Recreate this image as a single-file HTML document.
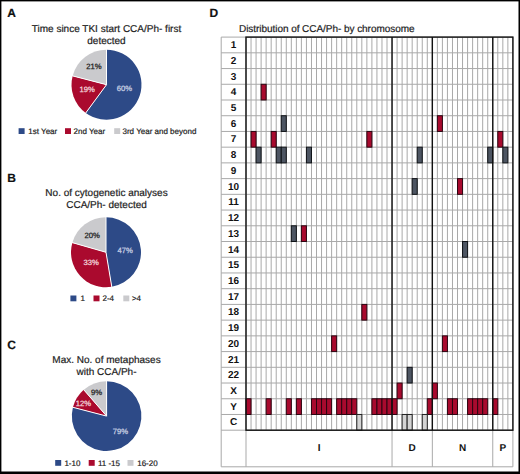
<!DOCTYPE html>
<html><head><meta charset="utf-8">
<style>
html,body{margin:0;padding:0;}
body{width:520px;height:474px;position:relative;overflow:hidden;background:#fff;font-family:"Liberation Sans",sans-serif;color:#222;text-rendering:geometricPrecision;}
.pl{position:absolute;font-weight:bold;font-size:12px;line-height:12px;color:#111;-webkit-text-stroke:0.2px #111;}
.tt{position:absolute;left:0;width:213px;text-align:center;font-size:10px;line-height:12.4px;color:#222;white-space:nowrap;-webkit-text-stroke:0.2px #222;}
.pct{position:absolute;font-size:7.7px;line-height:8px;white-space:nowrap;-webkit-text-stroke:0.25px currentColor;}
.lg{position:absolute;font-size:8px;line-height:9px;white-space:nowrap;color:#222;-webkit-text-stroke:0.2px #222;}
.rl{position:absolute;left:221.2px;width:24.80px;text-align:center;font-weight:bold;font-size:10px;color:#111;}
.sl{position:absolute;top:431.2px;height:36.8px;line-height:36.8px;text-align:center;font-weight:bold;font-size:10px;color:#111;}
svg{position:absolute;left:0;top:0;}
</style></head><body>
<svg width="520" height="474" viewBox="0 0 520 474">
<path d="M106.50,84.70 L106.50,49.70 A35,35 0 1 1 85.78,112.91 Z" fill="#2d4a87"/>
<path d="M106.50,84.70 L85.78,112.91 A35,35 0 0 1 72.63,75.88 Z" fill="#aa0a2e"/>
<path d="M106.50,84.70 L72.63,75.88 A35,35 0 0 1 106.50,49.70 Z" fill="#cacacd"/>
<line x1="106.50" y1="84.70" x2="106.50" y2="49.20" stroke="#fff" stroke-width="1"/>
<line x1="106.50" y1="84.70" x2="85.48" y2="113.31" stroke="#fff" stroke-width="1"/>
<line x1="106.50" y1="84.70" x2="72.15" y2="75.75" stroke="#fff" stroke-width="1"/>
<path d="M106.00,252.30 L106.00,217.30 A35,35 0 0 1 111.78,286.82 Z" fill="#2d4a87"/>
<path d="M106.00,252.30 L111.78,286.82 A35,35 0 0 1 72.36,242.65 Z" fill="#aa0a2e"/>
<path d="M106.00,252.30 L72.36,242.65 A35,35 0 0 1 106.00,217.30 Z" fill="#cacacd"/>
<line x1="106.00" y1="252.30" x2="106.00" y2="216.80" stroke="#fff" stroke-width="1"/>
<line x1="106.00" y1="252.30" x2="111.86" y2="287.31" stroke="#fff" stroke-width="1"/>
<line x1="106.00" y1="252.30" x2="71.88" y2="242.51" stroke="#fff" stroke-width="1"/>
<path d="M106.60,416.10 L106.60,381.30 A34.8,34.8 0 1 1 72.92,407.33 Z" fill="#2d4a87"/>
<path d="M106.60,416.10 L72.92,407.33 A34.8,34.8 0 0 1 83.77,389.84 Z" fill="#aa0a2e"/>
<path d="M106.60,416.10 L83.77,389.84 A34.8,34.8 0 0 1 106.60,381.30 Z" fill="#cacacd"/>
<line x1="106.60" y1="416.10" x2="106.60" y2="380.80" stroke="#fff" stroke-width="1"/>
<line x1="106.60" y1="416.10" x2="72.44" y2="407.20" stroke="#fff" stroke-width="1"/>
<line x1="106.60" y1="416.10" x2="83.44" y2="389.46" stroke="#fff" stroke-width="1"/>
<line x1="221.2" y1="37.10" x2="512.9" y2="37.10" stroke="#a9a9a9" stroke-width="1"/>
<line x1="221.2" y1="52.82" x2="512.9" y2="52.82" stroke="#a9a9a9" stroke-width="1"/>
<line x1="221.2" y1="68.55" x2="512.9" y2="68.55" stroke="#a9a9a9" stroke-width="1"/>
<line x1="221.2" y1="84.27" x2="512.9" y2="84.27" stroke="#a9a9a9" stroke-width="1"/>
<line x1="221.2" y1="100.00" x2="512.9" y2="100.00" stroke="#a9a9a9" stroke-width="1"/>
<line x1="221.2" y1="115.72" x2="512.9" y2="115.72" stroke="#a9a9a9" stroke-width="1"/>
<line x1="221.2" y1="131.44" x2="512.9" y2="131.44" stroke="#a9a9a9" stroke-width="1"/>
<line x1="221.2" y1="147.17" x2="512.9" y2="147.17" stroke="#a9a9a9" stroke-width="1"/>
<line x1="221.2" y1="162.89" x2="512.9" y2="162.89" stroke="#a9a9a9" stroke-width="1"/>
<line x1="221.2" y1="178.62" x2="512.9" y2="178.62" stroke="#a9a9a9" stroke-width="1"/>
<line x1="221.2" y1="194.34" x2="512.9" y2="194.34" stroke="#a9a9a9" stroke-width="1"/>
<line x1="221.2" y1="210.06" x2="512.9" y2="210.06" stroke="#a9a9a9" stroke-width="1"/>
<line x1="221.2" y1="225.79" x2="512.9" y2="225.79" stroke="#a9a9a9" stroke-width="1"/>
<line x1="221.2" y1="241.51" x2="512.9" y2="241.51" stroke="#a9a9a9" stroke-width="1"/>
<line x1="221.2" y1="257.24" x2="512.9" y2="257.24" stroke="#a9a9a9" stroke-width="1"/>
<line x1="221.2" y1="272.96" x2="512.9" y2="272.96" stroke="#a9a9a9" stroke-width="1"/>
<line x1="221.2" y1="288.68" x2="512.9" y2="288.68" stroke="#a9a9a9" stroke-width="1"/>
<line x1="221.2" y1="304.41" x2="512.9" y2="304.41" stroke="#a9a9a9" stroke-width="1"/>
<line x1="221.2" y1="320.13" x2="512.9" y2="320.13" stroke="#a9a9a9" stroke-width="1"/>
<line x1="221.2" y1="335.86" x2="512.9" y2="335.86" stroke="#a9a9a9" stroke-width="1"/>
<line x1="221.2" y1="351.58" x2="512.9" y2="351.58" stroke="#a9a9a9" stroke-width="1"/>
<line x1="221.2" y1="367.30" x2="512.9" y2="367.30" stroke="#a9a9a9" stroke-width="1"/>
<line x1="221.2" y1="383.03" x2="512.9" y2="383.03" stroke="#a9a9a9" stroke-width="1"/>
<line x1="221.2" y1="398.75" x2="512.9" y2="398.75" stroke="#a9a9a9" stroke-width="1"/>
<line x1="221.2" y1="414.48" x2="512.9" y2="414.48" stroke="#a9a9a9" stroke-width="1"/>
<line x1="221.2" y1="430.20" x2="512.9" y2="430.20" stroke="#a9a9a9" stroke-width="1"/>
<line x1="246.00" y1="37.1" x2="246.00" y2="430.2" stroke="#a9a9a9" stroke-width="1"/>
<line x1="251.04" y1="37.1" x2="251.04" y2="430.2" stroke="#a9a9a9" stroke-width="1"/>
<line x1="256.07" y1="37.1" x2="256.07" y2="430.2" stroke="#a9a9a9" stroke-width="1"/>
<line x1="261.11" y1="37.1" x2="261.11" y2="430.2" stroke="#a9a9a9" stroke-width="1"/>
<line x1="266.14" y1="37.1" x2="266.14" y2="430.2" stroke="#a9a9a9" stroke-width="1"/>
<line x1="271.18" y1="37.1" x2="271.18" y2="430.2" stroke="#a9a9a9" stroke-width="1"/>
<line x1="276.22" y1="37.1" x2="276.22" y2="430.2" stroke="#a9a9a9" stroke-width="1"/>
<line x1="281.25" y1="37.1" x2="281.25" y2="430.2" stroke="#a9a9a9" stroke-width="1"/>
<line x1="286.29" y1="37.1" x2="286.29" y2="430.2" stroke="#a9a9a9" stroke-width="1"/>
<line x1="291.32" y1="37.1" x2="291.32" y2="430.2" stroke="#a9a9a9" stroke-width="1"/>
<line x1="296.36" y1="37.1" x2="296.36" y2="430.2" stroke="#a9a9a9" stroke-width="1"/>
<line x1="301.39" y1="37.1" x2="301.39" y2="430.2" stroke="#a9a9a9" stroke-width="1"/>
<line x1="306.43" y1="37.1" x2="306.43" y2="430.2" stroke="#a9a9a9" stroke-width="1"/>
<line x1="311.47" y1="37.1" x2="311.47" y2="430.2" stroke="#a9a9a9" stroke-width="1"/>
<line x1="316.50" y1="37.1" x2="316.50" y2="430.2" stroke="#a9a9a9" stroke-width="1"/>
<line x1="321.54" y1="37.1" x2="321.54" y2="430.2" stroke="#a9a9a9" stroke-width="1"/>
<line x1="326.57" y1="37.1" x2="326.57" y2="430.2" stroke="#a9a9a9" stroke-width="1"/>
<line x1="331.61" y1="37.1" x2="331.61" y2="430.2" stroke="#a9a9a9" stroke-width="1"/>
<line x1="336.65" y1="37.1" x2="336.65" y2="430.2" stroke="#a9a9a9" stroke-width="1"/>
<line x1="341.68" y1="37.1" x2="341.68" y2="430.2" stroke="#a9a9a9" stroke-width="1"/>
<line x1="346.72" y1="37.1" x2="346.72" y2="430.2" stroke="#a9a9a9" stroke-width="1"/>
<line x1="351.75" y1="37.1" x2="351.75" y2="430.2" stroke="#a9a9a9" stroke-width="1"/>
<line x1="356.79" y1="37.1" x2="356.79" y2="430.2" stroke="#a9a9a9" stroke-width="1"/>
<line x1="361.82" y1="37.1" x2="361.82" y2="430.2" stroke="#a9a9a9" stroke-width="1"/>
<line x1="366.86" y1="37.1" x2="366.86" y2="430.2" stroke="#a9a9a9" stroke-width="1"/>
<line x1="371.90" y1="37.1" x2="371.90" y2="430.2" stroke="#a9a9a9" stroke-width="1"/>
<line x1="376.93" y1="37.1" x2="376.93" y2="430.2" stroke="#a9a9a9" stroke-width="1"/>
<line x1="381.97" y1="37.1" x2="381.97" y2="430.2" stroke="#a9a9a9" stroke-width="1"/>
<line x1="387.00" y1="37.1" x2="387.00" y2="430.2" stroke="#a9a9a9" stroke-width="1"/>
<line x1="392.04" y1="37.1" x2="392.04" y2="430.2" stroke="#a9a9a9" stroke-width="1"/>
<line x1="397.08" y1="37.1" x2="397.08" y2="430.2" stroke="#a9a9a9" stroke-width="1"/>
<line x1="402.11" y1="37.1" x2="402.11" y2="430.2" stroke="#a9a9a9" stroke-width="1"/>
<line x1="407.15" y1="37.1" x2="407.15" y2="430.2" stroke="#a9a9a9" stroke-width="1"/>
<line x1="412.18" y1="37.1" x2="412.18" y2="430.2" stroke="#a9a9a9" stroke-width="1"/>
<line x1="417.22" y1="37.1" x2="417.22" y2="430.2" stroke="#a9a9a9" stroke-width="1"/>
<line x1="422.25" y1="37.1" x2="422.25" y2="430.2" stroke="#a9a9a9" stroke-width="1"/>
<line x1="427.29" y1="37.1" x2="427.29" y2="430.2" stroke="#a9a9a9" stroke-width="1"/>
<line x1="432.33" y1="37.1" x2="432.33" y2="430.2" stroke="#a9a9a9" stroke-width="1"/>
<line x1="437.36" y1="37.1" x2="437.36" y2="430.2" stroke="#a9a9a9" stroke-width="1"/>
<line x1="442.40" y1="37.1" x2="442.40" y2="430.2" stroke="#a9a9a9" stroke-width="1"/>
<line x1="447.43" y1="37.1" x2="447.43" y2="430.2" stroke="#a9a9a9" stroke-width="1"/>
<line x1="452.47" y1="37.1" x2="452.47" y2="430.2" stroke="#a9a9a9" stroke-width="1"/>
<line x1="457.51" y1="37.1" x2="457.51" y2="430.2" stroke="#a9a9a9" stroke-width="1"/>
<line x1="462.54" y1="37.1" x2="462.54" y2="430.2" stroke="#a9a9a9" stroke-width="1"/>
<line x1="467.58" y1="37.1" x2="467.58" y2="430.2" stroke="#a9a9a9" stroke-width="1"/>
<line x1="472.61" y1="37.1" x2="472.61" y2="430.2" stroke="#a9a9a9" stroke-width="1"/>
<line x1="477.65" y1="37.1" x2="477.65" y2="430.2" stroke="#a9a9a9" stroke-width="1"/>
<line x1="482.68" y1="37.1" x2="482.68" y2="430.2" stroke="#a9a9a9" stroke-width="1"/>
<line x1="487.72" y1="37.1" x2="487.72" y2="430.2" stroke="#a9a9a9" stroke-width="1"/>
<line x1="492.76" y1="37.1" x2="492.76" y2="430.2" stroke="#a9a9a9" stroke-width="1"/>
<line x1="497.79" y1="37.1" x2="497.79" y2="430.2" stroke="#a9a9a9" stroke-width="1"/>
<line x1="502.83" y1="37.1" x2="502.83" y2="430.2" stroke="#a9a9a9" stroke-width="1"/>
<line x1="507.86" y1="37.1" x2="507.86" y2="430.2" stroke="#a9a9a9" stroke-width="1"/>
<line x1="512.90" y1="37.1" x2="512.90" y2="430.2" stroke="#a9a9a9" stroke-width="1"/>
<line x1="221.2" y1="37.1" x2="221.2" y2="466.8" stroke="#a9a9a9" stroke-width="1"/>
<rect x="261.11" y="84.27" width="5.04" height="15.72" fill="#a80a2e" stroke="#2a0510" stroke-width="1"/>
<rect x="281.25" y="115.72" width="5.04" height="15.72" fill="#4d5562" stroke="#0f1216" stroke-width="1"/>
<rect x="437.36" y="115.72" width="5.04" height="15.72" fill="#a80a2e" stroke="#2a0510" stroke-width="1"/>
<rect x="251.04" y="131.44" width="5.04" height="15.72" fill="#a80a2e" stroke="#2a0510" stroke-width="1"/>
<rect x="271.18" y="131.44" width="5.04" height="15.72" fill="#a80a2e" stroke="#2a0510" stroke-width="1"/>
<rect x="366.86" y="131.44" width="5.04" height="15.72" fill="#a80a2e" stroke="#2a0510" stroke-width="1"/>
<rect x="497.79" y="131.44" width="5.04" height="15.72" fill="#a80a2e" stroke="#2a0510" stroke-width="1"/>
<rect x="256.07" y="147.17" width="5.04" height="15.72" fill="#4d5562" stroke="#0f1216" stroke-width="1"/>
<rect x="276.22" y="147.17" width="5.04" height="15.72" fill="#4d5562" stroke="#0f1216" stroke-width="1"/>
<rect x="281.25" y="147.17" width="5.04" height="15.72" fill="#4d5562" stroke="#0f1216" stroke-width="1"/>
<rect x="306.43" y="147.17" width="5.04" height="15.72" fill="#4d5562" stroke="#0f1216" stroke-width="1"/>
<rect x="417.22" y="147.17" width="5.04" height="15.72" fill="#4d5562" stroke="#0f1216" stroke-width="1"/>
<rect x="487.72" y="147.17" width="5.04" height="15.72" fill="#4d5562" stroke="#0f1216" stroke-width="1"/>
<rect x="502.83" y="147.17" width="5.04" height="15.72" fill="#4d5562" stroke="#0f1216" stroke-width="1"/>
<rect x="412.18" y="178.62" width="5.04" height="15.72" fill="#4d5562" stroke="#0f1216" stroke-width="1"/>
<rect x="457.51" y="178.62" width="5.04" height="15.72" fill="#a80a2e" stroke="#2a0510" stroke-width="1"/>
<rect x="291.32" y="225.79" width="5.04" height="15.72" fill="#4d5562" stroke="#0f1216" stroke-width="1"/>
<rect x="301.39" y="225.79" width="5.04" height="15.72" fill="#a80a2e" stroke="#2a0510" stroke-width="1"/>
<rect x="462.54" y="241.51" width="5.04" height="15.72" fill="#4d5562" stroke="#0f1216" stroke-width="1"/>
<rect x="361.82" y="304.41" width="5.04" height="15.72" fill="#a80a2e" stroke="#2a0510" stroke-width="1"/>
<rect x="331.61" y="335.86" width="5.04" height="15.72" fill="#a80a2e" stroke="#2a0510" stroke-width="1"/>
<rect x="442.40" y="335.86" width="5.04" height="15.72" fill="#a80a2e" stroke="#2a0510" stroke-width="1"/>
<rect x="407.15" y="367.30" width="5.04" height="15.72" fill="#4d5562" stroke="#0f1216" stroke-width="1"/>
<rect x="397.08" y="383.03" width="5.04" height="15.72" fill="#a80a2e" stroke="#2a0510" stroke-width="1"/>
<rect x="432.33" y="383.03" width="5.04" height="15.72" fill="#a80a2e" stroke="#2a0510" stroke-width="1"/>
<rect x="246.00" y="398.75" width="5.04" height="15.72" fill="#a80a2e" stroke="#2a0510" stroke-width="1"/>
<rect x="266.14" y="398.75" width="5.04" height="15.72" fill="#a80a2e" stroke="#2a0510" stroke-width="1"/>
<rect x="286.29" y="398.75" width="5.04" height="15.72" fill="#a80a2e" stroke="#2a0510" stroke-width="1"/>
<rect x="296.36" y="398.75" width="5.04" height="15.72" fill="#a80a2e" stroke="#2a0510" stroke-width="1"/>
<rect x="311.47" y="398.75" width="5.04" height="15.72" fill="#a80a2e" stroke="#2a0510" stroke-width="1"/>
<rect x="316.50" y="398.75" width="5.04" height="15.72" fill="#a80a2e" stroke="#2a0510" stroke-width="1"/>
<rect x="321.54" y="398.75" width="5.04" height="15.72" fill="#a80a2e" stroke="#2a0510" stroke-width="1"/>
<rect x="326.57" y="398.75" width="5.04" height="15.72" fill="#a80a2e" stroke="#2a0510" stroke-width="1"/>
<rect x="336.65" y="398.75" width="5.04" height="15.72" fill="#a80a2e" stroke="#2a0510" stroke-width="1"/>
<rect x="341.68" y="398.75" width="5.04" height="15.72" fill="#a80a2e" stroke="#2a0510" stroke-width="1"/>
<rect x="346.72" y="398.75" width="5.04" height="15.72" fill="#a80a2e" stroke="#2a0510" stroke-width="1"/>
<rect x="351.75" y="398.75" width="5.04" height="15.72" fill="#a80a2e" stroke="#2a0510" stroke-width="1"/>
<rect x="371.90" y="398.75" width="5.04" height="15.72" fill="#a80a2e" stroke="#2a0510" stroke-width="1"/>
<rect x="376.93" y="398.75" width="5.04" height="15.72" fill="#a80a2e" stroke="#2a0510" stroke-width="1"/>
<rect x="381.97" y="398.75" width="5.04" height="15.72" fill="#a80a2e" stroke="#2a0510" stroke-width="1"/>
<rect x="387.00" y="398.75" width="5.04" height="15.72" fill="#a80a2e" stroke="#2a0510" stroke-width="1"/>
<rect x="392.04" y="398.75" width="5.04" height="15.72" fill="#a80a2e" stroke="#2a0510" stroke-width="1"/>
<rect x="427.29" y="398.75" width="5.04" height="15.72" fill="#a80a2e" stroke="#2a0510" stroke-width="1"/>
<rect x="447.43" y="398.75" width="5.04" height="15.72" fill="#a80a2e" stroke="#2a0510" stroke-width="1"/>
<rect x="452.47" y="398.75" width="5.04" height="15.72" fill="#a80a2e" stroke="#2a0510" stroke-width="1"/>
<rect x="467.58" y="398.75" width="5.04" height="15.72" fill="#a80a2e" stroke="#2a0510" stroke-width="1"/>
<rect x="472.61" y="398.75" width="5.04" height="15.72" fill="#a80a2e" stroke="#2a0510" stroke-width="1"/>
<rect x="477.65" y="398.75" width="5.04" height="15.72" fill="#a80a2e" stroke="#2a0510" stroke-width="1"/>
<rect x="482.68" y="398.75" width="5.04" height="15.72" fill="#a80a2e" stroke="#2a0510" stroke-width="1"/>
<rect x="492.76" y="398.75" width="5.04" height="15.72" fill="#a80a2e" stroke="#2a0510" stroke-width="1"/>
<rect x="356.79" y="414.48" width="5.04" height="15.72" fill="#d4d4d4" stroke="#222" stroke-width="1"/>
<rect x="402.11" y="414.48" width="5.04" height="15.72" fill="#d4d4d4" stroke="#222" stroke-width="1"/>
<rect x="407.15" y="414.48" width="5.04" height="15.72" fill="#d4d4d4" stroke="#222" stroke-width="1"/>
<rect x="422.25" y="414.48" width="5.04" height="15.72" fill="#d4d4d4" stroke="#222" stroke-width="1"/>
<line x1="246.00" y1="430.2" x2="246.00" y2="466.8" stroke="#a9a9a9" stroke-width="1"/>
<line x1="392.04" y1="430.2" x2="392.04" y2="466.8" stroke="#a9a9a9" stroke-width="1"/>
<line x1="432.33" y1="430.2" x2="432.33" y2="466.8" stroke="#a9a9a9" stroke-width="1"/>
<line x1="492.76" y1="430.2" x2="492.76" y2="466.8" stroke="#a9a9a9" stroke-width="1"/>
<line x1="512.90" y1="430.2" x2="512.90" y2="466.8" stroke="#a9a9a9" stroke-width="1"/>
<line x1="221.2" y1="466.8" x2="512.9" y2="466.8" stroke="#a9a9a9" stroke-width="1"/>
<rect x="246.0" y="37.1" width="266.90" height="393.10" fill="none" stroke="#111" stroke-width="1.4"/>
<line x1="392.04" y1="37.1" x2="392.04" y2="430.2" stroke="#111" stroke-width="1.4"/>
<line x1="432.33" y1="37.1" x2="432.33" y2="430.2" stroke="#111" stroke-width="1.4"/>
<line x1="492.76" y1="37.1" x2="492.76" y2="430.2" stroke="#111" stroke-width="1.4"/>
<rect x="18.60" y="128.20" width="6" height="5.8" fill="#2d4a87"/>
<rect x="65.00" y="128.20" width="6" height="5.8" fill="#aa0a2e"/>
<rect x="114.20" y="128.20" width="6" height="5.8" fill="#cacacd"/>
<rect x="70.40" y="295.50" width="6" height="5.8" fill="#2d4a87"/>
<rect x="93.50" y="295.50" width="6" height="5.8" fill="#aa0a2e"/>
<rect x="123.30" y="295.50" width="6" height="5.8" fill="#cacacd"/>
<rect x="55.20" y="460.00" width="6" height="5.8" fill="#2d4a87"/>
<rect x="88.70" y="460.00" width="6" height="5.8" fill="#aa0a2e"/>
<rect x="127.50" y="460.00" width="6" height="5.8" fill="#cacacd"/>
</svg>
<div class="pl" style="left:7.3px;top:7px">A</div>
<div class="pl" style="left:7.3px;top:172px">B</div>
<div class="pl" style="left:7.3px;top:339px">C</div>
<div class="pl" style="left:209.5px;top:7px">D</div>
<div class="tt" style="top:24px">Time since TKI start CCA/Ph- first<br>detected</div>
<div class="tt" style="top:188px">No. of cytogenetic analyses<br>CCA/Ph- detected</div>
<div class="tt" style="top:355px">Max. No. of metaphases<br>with CCA/Ph-</div>
<div class="tt" style="top:24px;left:239px;width:auto;font-size:10px;letter-spacing:-0.05px;text-align:left">Distribution of CCA/Ph- by chromosome</div>
<div class="pct" style="left:86.3px;top:62.5px;color:#222">21%</div>
<div class="pct" style="left:79.5px;top:86.0px;color:#f2d6dc">19%</div>
<div class="pct" style="left:116.8px;top:84.5px;color:#c9d1e3">60%</div>
<div class="pct" style="left:84.5px;top:231.5px;color:#222">20%</div>
<div class="pct" style="left:83.5px;top:259.0px;color:#f2d6dc">33%</div>
<div class="pct" style="left:117.5px;top:246.5px;color:#c9d1e3">47%</div>
<div class="pct" style="left:91px;top:389.0px;color:#222">9%</div>
<div class="pct" style="left:75.8px;top:400.0px;color:#f2d6dc">12%</div>
<div class="pct" style="left:112.8px;top:427.5px;color:#c9d1e3">79%</div>
<div class="lg" style="left:28.3px;top:126.70px">1st Year</div>
<div class="lg" style="left:73.6px;top:126.70px">2nd Year</div>
<div class="lg" style="left:122.5px;top:126.70px">3rd Year and beyond</div>
<div class="lg" style="left:80.5px;top:294.40px">1</div>
<div class="lg" style="left:102.5px;top:294.40px">2-4</div>
<div class="lg" style="left:131.9px;top:294.40px">&gt;4</div>
<div class="lg" style="left:64.4px;top:458.70px">1-10</div>
<div class="lg" style="left:97.9px;top:458.70px">11 -15</div>
<div class="lg" style="left:137.2px;top:458.70px">16-20</div>
<div class="rl" style="top:38.10px;height:15.72px;line-height:15.72px">1</div>
<div class="rl" style="top:53.82px;height:15.72px;line-height:15.72px">2</div>
<div class="rl" style="top:69.55px;height:15.72px;line-height:15.72px">3</div>
<div class="rl" style="top:85.27px;height:15.72px;line-height:15.72px">4</div>
<div class="rl" style="top:101.00px;height:15.72px;line-height:15.72px">5</div>
<div class="rl" style="top:116.72px;height:15.72px;line-height:15.72px">6</div>
<div class="rl" style="top:132.44px;height:15.72px;line-height:15.72px">7</div>
<div class="rl" style="top:148.17px;height:15.72px;line-height:15.72px">8</div>
<div class="rl" style="top:163.89px;height:15.72px;line-height:15.72px">9</div>
<div class="rl" style="top:179.62px;height:15.72px;line-height:15.72px">10</div>
<div class="rl" style="top:195.34px;height:15.72px;line-height:15.72px">11</div>
<div class="rl" style="top:211.06px;height:15.72px;line-height:15.72px">12</div>
<div class="rl" style="top:226.79px;height:15.72px;line-height:15.72px">13</div>
<div class="rl" style="top:242.51px;height:15.72px;line-height:15.72px">14</div>
<div class="rl" style="top:258.24px;height:15.72px;line-height:15.72px">15</div>
<div class="rl" style="top:273.96px;height:15.72px;line-height:15.72px">16</div>
<div class="rl" style="top:289.68px;height:15.72px;line-height:15.72px">17</div>
<div class="rl" style="top:305.41px;height:15.72px;line-height:15.72px">18</div>
<div class="rl" style="top:321.13px;height:15.72px;line-height:15.72px">19</div>
<div class="rl" style="top:336.86px;height:15.72px;line-height:15.72px">20</div>
<div class="rl" style="top:352.58px;height:15.72px;line-height:15.72px">21</div>
<div class="rl" style="top:368.30px;height:15.72px;line-height:15.72px">22</div>
<div class="rl" style="top:384.03px;height:15.72px;line-height:15.72px">X</div>
<div class="rl" style="top:399.75px;height:15.72px;line-height:15.72px">Y</div>
<div class="rl" style="top:415.48px;height:15.72px;line-height:15.72px">C</div>
<div class="sl" style="left:246.00px;width:146.04px">I</div>
<div class="sl" style="left:392.04px;width:40.29px">D</div>
<div class="sl" style="left:432.33px;width:60.43px">N</div>
<div class="sl" style="left:492.76px;width:20.14px">P</div>
<svg width="520" height="474" style="position:absolute;left:0;top:0"><rect x="0" y="0" width="520" height="1.4" fill="#000"/><rect x="0" y="0" width="1.4" height="474" fill="#000"/><rect x="518.5" y="0" width="1.5" height="474" fill="#000"/><rect x="0" y="471.5" width="520" height="2.5" fill="#000"/></svg>
</body></html>
